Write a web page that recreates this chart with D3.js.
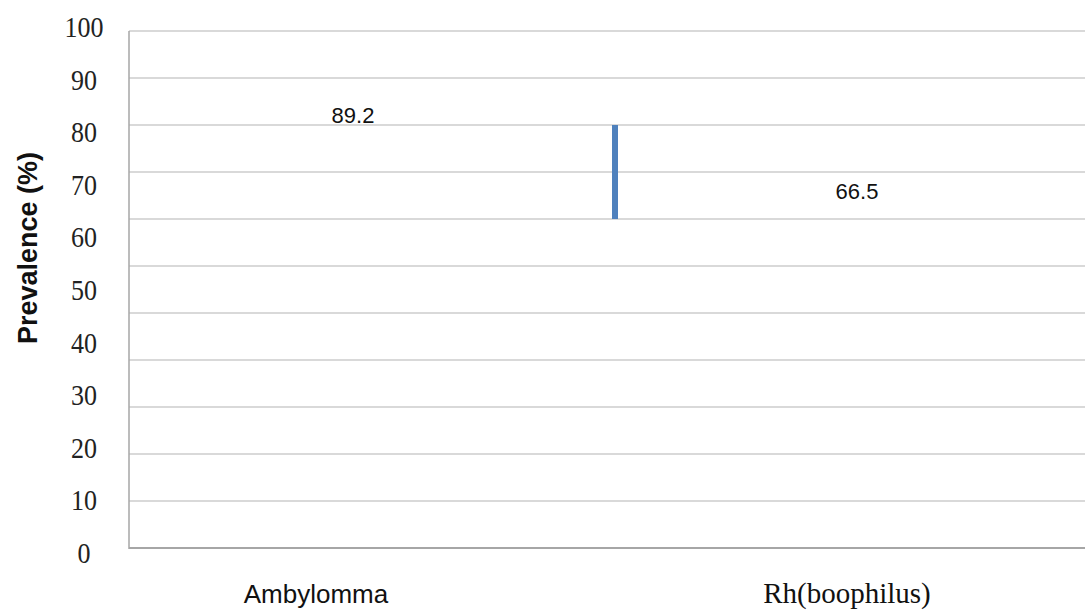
<!DOCTYPE html>
<html>
<head>
<meta charset="utf-8">
<script src="https://cdn.jsdelivr.net/npm/d3@7"></script>
<style>
  html, body { margin: 0; padding: 0; background: #fff; }
  svg { display: block; }
</style>
</head>
<body>
<svg id="chart" width="1085" height="614"></svg>
<script>
// ---- data ----
const categories = ["Ambylomma", "Rh(boophilus)"];
const prevalence = [89.2, 66.5];
const yTickLabels = [0, 10, 20, 30, 40, 50, 60, 70, 80, 90, 100];
const gridValues = [0, 10, 20, 30, 40, 50, 60, 70, 80, 90, 100, 110];
const segmentRange = [70, 90];           // blue vertical mark (grid units)
const yTitle = "Prevalence (%)";

// ---- layout ----
const W = 1085, H = 614;
const plot = { left: 129, right: 1085, top: 31, bottom: 548 };
const catLabelDx = [-56, -11];
const valueLabelDx = [-19, -1];
const valueLabelDy = [-6, -36];

const svg = d3.select("#chart");

const gy = d3.scaleLinear().domain([0, 110]).range([plot.bottom, plot.top]);
const ly = d3.scaleLinear().domain([0, 100]).range([553, 27]);
const xBand = d3.scaleBand().domain(categories).range([plot.left, 1101]);

// gridlines
svg.append("g").selectAll("line")
  .data(gridValues.filter(v => v > 0))
  .join("line")
  .attr("x1", plot.left).attr("x2", plot.right)
  .attr("y1", d => gy(d)).attr("y2", d => gy(d))
  .attr("stroke", "#d9d9d9").attr("stroke-width", 2);

// axes lines
svg.append("line")
  .attr("x1", plot.left).attr("x2", plot.left)
  .attr("y1", gy(110)).attr("y2", gy(0) + 1)
  .attr("stroke", "#a6a6a6").attr("stroke-width", 1.5);
svg.append("line")
  .attr("x1", plot.left).attr("x2", plot.right)
  .attr("y1", gy(0)).attr("y2", gy(0))
  .attr("stroke", "#a6a6a6").attr("stroke-width", 2);

// y tick labels (slightly tall serif digits)
svg.append("g").selectAll("text")
  .data(yTickLabels)
  .join("text")
  .attr("transform", d => `translate(84, ${ly(d)}) scale(1, 1.13)`)
  .attr("text-anchor", "middle")
  .attr("dominant-baseline", "central")
  .attr("font-family", "'Liberation Serif', 'Times New Roman', serif")
  .attr("font-size", 26)
  .attr("fill", "#222")
  .text(d => d);

// y title
svg.append("text")
  .attr("transform", `translate(28, 248) rotate(-90)`)
  .attr("text-anchor", "middle")
  .attr("dominant-baseline", "central")
  .attr("font-family", "'Liberation Sans', Arial, sans-serif")
  .attr("font-weight", "bold")
  .attr("font-size", 27)
  .attr("fill", "#111")
  .text(yTitle);

// blue vertical mark at the band boundary
svg.append("line")
  .attr("x1", xBand(categories[1])).attr("x2", xBand(categories[1]))
  .attr("y1", gy(segmentRange[1])).attr("y2", gy(segmentRange[0]))
  .attr("stroke", "#4f81bd").attr("stroke-width", 6);

// value labels
svg.append("g").selectAll("text")
  .data(prevalence)
  .join("text")
  .attr("x", (d, i) => xBand(categories[i]) + xBand.bandwidth() / 2 + valueLabelDx[i])
  .attr("y", (d, i) => gy(d) + valueLabelDy[i])
  .attr("text-anchor", "middle")
  .attr("font-family", "'Liberation Sans', Arial, sans-serif")
  .attr("font-size", 22)
  .attr("fill", "#111")
  .text(d => d.toFixed(1));

// category labels
const catFonts = ["'Liberation Sans', Arial, sans-serif", "'Liberation Serif', 'Times New Roman', serif"];
const catSizes = [26, 29];
svg.append("g").selectAll("text")
  .data(categories)
  .join("text")
  .attr("x", (d, i) => xBand(d) + xBand.bandwidth() / 2 + catLabelDx[i])
  .attr("y", 603)
  .attr("text-anchor", "middle")
  .attr("font-family", (d, i) => catFonts[i])
  .attr("font-size", (d, i) => catSizes[i])
  .attr("fill", "#111")
  .text(d => d);
</script>
</body>
</html>
